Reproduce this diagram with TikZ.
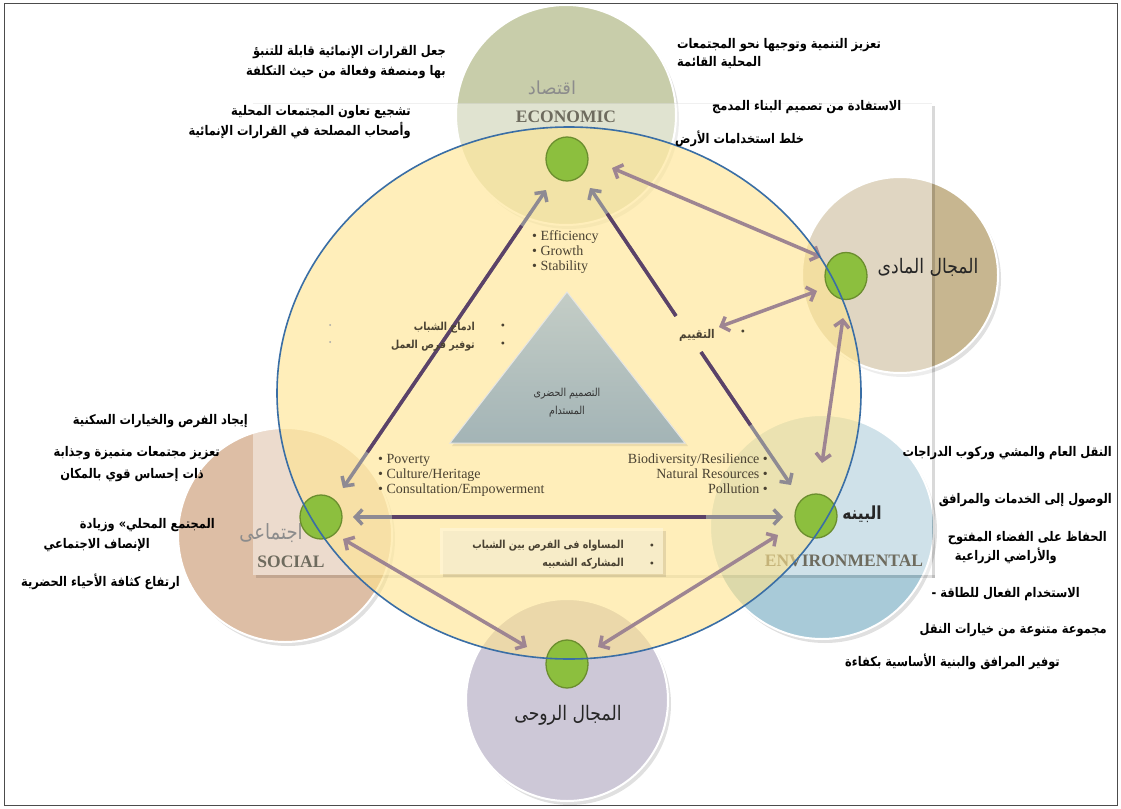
\documentclass[tikz,border=0pt]{standalone}
\usepackage{fontspec}
\usepackage{graphicx}
\usetikzlibrary{arrows.meta,shapes.geometric,calc}
\TeXXeTstate=1
\newfontfamily\arabicfont[Script=Arabic]{DejaVu Sans}
\newfontfamily\seriffont{Liberation Serif}
\newcommand{\artext}[1]{\arabicfont\beginR #1\endR}
\newcommand{\arsq}[1]{\scalebox{0.86}[1]{\arabicfont\beginR #1\endR}}
\definecolor{econC}{HTML}{C8CDAA}
\definecolor{physC}{HTML}{C7B690}
\definecolor{envC}{HTML}{A8CAD8}
\definecolor{socC}{HTML}{DDBEA5}
\definecolor{spiC}{HTML}{CDC8D7}
\definecolor{yel}{HTML}{FFE48C}
\definecolor{blueO}{HTML}{3A6EA5}
\definecolor{dotG}{HTML}{8CBF3E}
\definecolor{dotB}{HTML}{6B8E2E}
\definecolor{arr}{HTML}{9E8592}
\definecolor{arrG}{HTML}{8E8A93}
\definecolor{darkP}{HTML}{5B4268}
\definecolor{labG}{HTML}{6E6B5E}
\definecolor{txtB}{HTML}{4A4232}
\definecolor{triTop}{HTML}{C4CDC6}
\definecolor{triBot}{HTML}{A3B4B6}
\begin{document}
\begin{tikzpicture}[x=1pt,y=-1pt,
  bigcirc/.style={draw=white, line width=2pt},
  dot/.style={ellipse, fill=dotG, draw=dotB, line width=1.3pt, inner sep=0pt, minimum width=42pt, minimum height=44pt},
  link/.style={draw=arr, line width=3.5pt, {Straight Barb[length=7pt,width=15pt]}-{Straight Barb[length=7pt,width=15pt]}},
  glink/.style={draw=arrG, line width=3.5pt},
  dark/.style={draw=darkP, line width=3.5pt},
  outer/.style={font=\bfseries\fontsize{13.3}{15}\selectfont, text=black, inner sep=0pt},
  inner/.style={font=\bfseries\fontsize{11}{12}\selectfont, text=txtB, inner sep=0pt},
  tri/.style={font=\fontsize{11}{12}\selectfont, text=black!80, inner sep=0pt},
  eng/.style={font=\seriffont\fontsize{14}{15}\selectfont, text=txtB, inner sep=0pt},
  caplab/.style={font=\seriffont\bfseries\fontsize{17.5}{18}\selectfont, text=labG, inner sep=0pt},
  bul/.style={font=\seriffont\fontsize{12}{12}\selectfont, text=txtB, inner sep=0pt}
]
\useasboundingbox (0,0) rectangle (1121,808);
\fill[white] (0,0) rectangle (1121,808);

% circles shadows
\foreach \cx/\cy/\r in {566/115/110, 900/275/98, 822/527/112, 285/535/107, 567/700/101}
  \fill[black, opacity=0.12] (\cx+3,\cy+4) circle (\r pt);
% circles
\fill[econC] (566,115) circle (110pt);
\fill[physC] (900,275) circle (98pt);
\fill[envC] (822,527) circle (112pt);
\fill[socC] (285,535) circle (107pt);
\fill[spiC] (567,700) circle (101pt);
\draw[bigcirc] (566,115) circle (110pt);
\draw[bigcirc] (900,275) circle (98pt);
\draw[bigcirc] (822,527) circle (112pt);
\draw[bigcirc] (285,535) circle (107pt);
\draw[bigcirc] (567,700) circle (101pt);

% inner slide rectangle overlay
\fill[white, opacity=0.45] (253,103) rectangle (932,575);
\fill[black, opacity=0.15] (932,106) rectangle (935,578);
\fill[black, opacity=0.12] (256,575) rectangle (935,578);
\draw[black, opacity=0.06, line width=0.8pt] (253,103) -- (932,103);

% labels in circles
\node[font=\arabicfont\fontsize{18}{18}\selectfont, text=black!45] (econar) at (552,88) {\artext{اقتصاد}};
\node[caplab] (econen) at (566,117) {ECONOMIC};
\node[caplab] (envEn) at (844,561) {ENVIRONMENTAL};
\node[caplab] (socEn) at (291,562) {SOCIAL};
\node[font=\arabicfont\fontsize{21}{21}\selectfont, text=black!45] (socar) at (271,533) {\arsq{اجتماعى}};
\node[font=\arabicfont\fontsize{20}{20}\selectfont, text=black!85] (physar) at (928,267) {\arsq{المجال المادى}};
\node[font=\arabicfont\bfseries\fontsize{18}{18}\selectfont, text=black!85] (envar) at (862,514) {\arsq{البينه}};
\node[font=\arabicfont\fontsize{20}{20}\selectfont, text=black!85] (spiar) at (568,715) {\arsq{المجال الروحى}};

% big yellow ellipse fill
\fill[yel, opacity=0.6] (569,393) ellipse [x radius=292pt, y radius=266pt];

% center triangle
\fill[black, opacity=0.08] (569,295) -- (688,446) -- (452,446) -- cycle;
\shade[top color=triTop, bottom color=triBot, draw=white!80!gray, line width=1pt]
  (567,292) -- (685,443) -- (450,443) -- cycle;
\node[tri] (tri1) at (567,394) {\arsq{التصميم الحضرى}};
\node[tri] (tri2) at (567,412) {\arsq{المستدام}};

% bottom center box
\fill[black, opacity=0.10] (443,531) rectangle (666,577);
\fill[yel!35!white, opacity=0.7] (440,528) rectangle (663,574);

% dots
\node[dot] (econdot) at (567,159) {};
\node[dot, minimum height=47pt] (physdot) at (846,276) {};
\node[dot] (envdot) at (816,516) {};
\node[dot] (socdot) at (321,517) {};
\node[dot, minimum height=48pt] (spidot) at (567,664) {};

% arrow end coordinates
\coordinate (eP1) at (612,168);
\coordinate (pE1) at (821,257);
\coordinate (eval) at (719,327);
\coordinate (pV) at (817,291);
\coordinate (pN) at (843,318);
\coordinate (nP) at (822,463);
\coordinate (sS) at (343,539);
\coordinate (spS) at (527,647);
\coordinate (spN) at (598,647);
\coordinate (nSp) at (778,535);
\coordinate (sH) at (353,517);
\coordinate (nH) at (783,517);
\coordinate (sT) at (343,488);
\coordinate (eT) at (546,190);
\coordinate (eR) at (590,188);
\coordinate (eRb) at (676,316);
\coordinate (nRa) at (701,352);
\coordinate (nR) at (791,485);

% connectors
\draw[link] (eP1) -- (pE1);
\draw[link] (eval) -- (pV);
\draw[link] (pN) -- (nP);
\draw[link] (sS) -- (spS);
\draw[link] (spN) -- (nSp);
\draw[glink, {Straight Barb[length=7pt,width=15pt]}-{Straight Barb[length=7pt,width=15pt]}] (sH) -- (nH);
\draw[dark] ($(sH)!0.09!(nH)$) -- ($(sH)!0.82!(nH)$);
\draw[glink, {Straight Barb[length=7pt,width=15pt]}-{Straight Barb[length=7pt,width=15pt]}] (sT) -- (eT);
\draw[dark] ($(sT)!0.12!(eT)$) -- ($(sT)!0.88!(eT)$);
\draw[glink, {Straight Barb[length=7pt,width=15pt]}-] (eR) -- (eRb);
\draw[dark] ($(eR)!0.2!(eRb)$) -- (eRb);
\draw[glink, -{Straight Barb[length=7pt,width=15pt]}] (nRa) -- (nR);
\draw[dark] (nRa) -- ($(nRa)!0.55!(nR)$);

% big ellipse outline
\draw[blueO, line width=1.6pt] (569,393) ellipse [x radius=292pt, y radius=266pt];

% English bullet texts
\node[eng, anchor=north west, align=left] (econlist) at (532,230) {• Efficiency\\• Growth\\• Stability};
\node[eng, anchor=north west, align=left] (soclist) at (378,454) {• Poverty\\• Culture/Heritage\\• Consultation/Empowerment};
\node[eng, anchor=north east, align=right] (envlist) at (768,454) {Biodiversity/Resilience •\\Natural Resources •\\Pollution •};

% inner Arabic bullets
\node[inner, anchor=east] (youth1) at (475,328) {\arsq{ادماج الشباب}};
\node[inner, anchor=east] (youth2) at (475,346) {\arsq{توفير فرص العمل}};
\node[bul] (b1) at (503,327) {•};
\node[bul] (b2) at (503,345) {•};
\fill[black!35] (330,325) circle (1pt) (330,342) circle (1pt);
\node[font=\bfseries\fontsize{12}{13}\selectfont, text=txtB, inner sep=0pt] (evaltxt) at (697,335) {\arsq{التقييم}};
\node[bul] (b3) at (743,333) {•};
\node[inner, anchor=east] (eq1) at (624,546) {\arsq{المساواه فى الفرص بين الشباب}};
\node[inner, anchor=east] (eq2) at (624,564) {\arsq{المشاركه الشعبيه}};
\node[bul] (b4) at (652,547) {•};
\node[bul] (b5) at (652,565) {•};

% outer texts
\node[outer, anchor=east] (tl1) at (446,52) {\arsq{جعل القرارات الإنمائية قابلة للتنبؤ}};
\node[outer, anchor=east] (tl2) at (446,72) {\arsq{بها ومنصفة وفعالة من حيث التكلفة}};
\node[outer, anchor=east] (tl3) at (411,112) {\arsq{تشجيع تعاون المجتمعات المحلية}};
\node[outer, anchor=east] (tl4) at (411,131) {\arsq{وأصحاب المصلحة في القرارات الإنمائية}};
\node[outer, anchor=west] (tr1) at (677,45) {\arsq{تعزيز التنمية وتوجيها نحو المجتمعات}};
\node[outer, anchor=west] (tr2) at (677,63) {\arsq{المحلية القائمة}};
\node[outer, anchor=west] (tr3) at (712,107) {\arsq{الاستفادة من تصميم البناء المدمج}};
\node[outer, anchor=west] (tr4) at (675,139) {\arsq{خلط استخدامات الأرض}};
\node[outer, anchor=east] (l1) at (248,421) {\arsq{إيجاد الفرص والخيارات السكنية}};
\node[outer, anchor=east] (l2) at (220,453) {\arsq{تعزيز مجتمعات متميزة وجذابة}};
\node[outer, anchor=east] (l3) at (204,475) {\arsq{ذات إحساس قوي بالمكان}};
\node[outer, anchor=east] (l4) at (215,525) {\arsq{المجتمع المحلي» وزيادة}};
\node[outer, anchor=east] (l5) at (150,545) {\arsq{الإنصاف الاجتماعي}};
\node[outer, anchor=east] (l6) at (180,582) {\arsq{ارتفاع كثافة الأحياء الحضرية}};
\node[outer, anchor=east] (r1) at (1112,453) {\arsq{النقل العام والمشي وركوب الدراجات}};
\node[outer, anchor=east] (r2) at (1112,500) {\arsq{الوصول إلى الخدمات والمرافق}};
\node[outer, anchor=east] (r3) at (1107,538) {\arsq{الحفاظ على الفضاء المفتوح}};
\node[outer, anchor=east] (r4) at (1057,556) {\arsq{والأراضي الزراعية}};
\node[outer, anchor=east] (r5) at (1080,594) {\arsq{الاستخدام الفعال للطاقة -}};
\node[outer, anchor=east] (r6) at (1107,630) {\arsq{مجموعة متنوعة من خيارات النقل}};
\node[outer, anchor=east] (r7) at (1060,662) {\arsq{توفير المرافق والبنية الأساسية بكفاءة}};

% frame
\draw[black!70, line width=1pt] (4,4) rectangle (1117,805);
\end{tikzpicture}
\end{document}
